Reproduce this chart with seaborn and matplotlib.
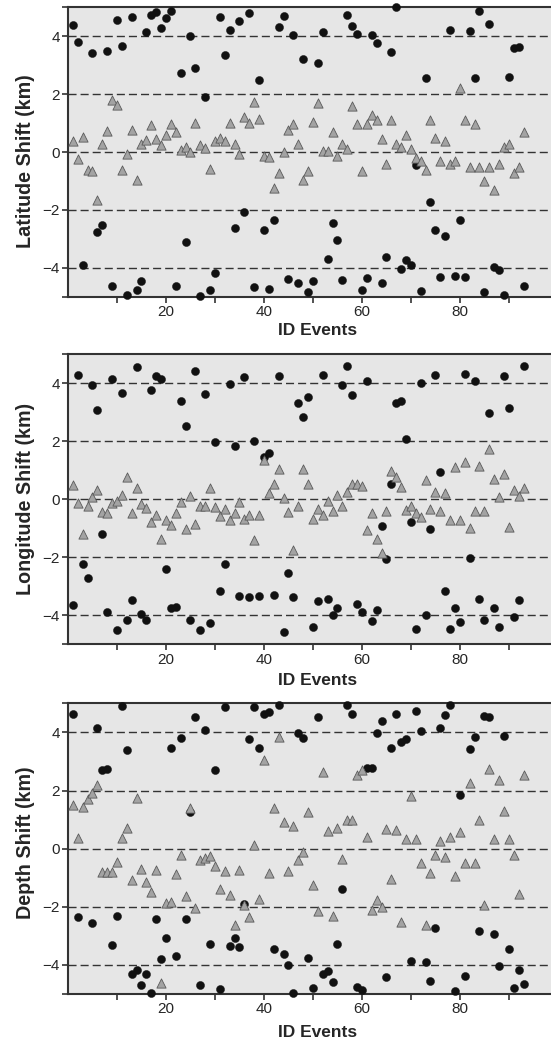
import numpy as np
import pandas as pd
import matplotlib
matplotlib.use('Agg')
import matplotlib.pyplot as plt
import seaborn as sns

nan = np.nan

# ID dos eventos
events = list(range(1, 94))

# Latitude: circulos (pretos) e triangulos (cinza)
lat_circ = [4.38, 3.79, -3.92, nan, 3.42, -2.76, -2.52, 3.48, -4.64, 4.56,
            3.66, -4.95, 4.68, -4.78, -4.45, 4.16, 4.75, 4.85, 4.30, 4.65,
            4.86, -4.64, 2.72, -3.10, 4.00, 2.89, -4.99, 1.89, -4.78, -4.18,
            4.67, 3.35, 4.23, -2.62, 4.52, -2.07, 4.80, -4.67, 2.49, -2.68,
            -4.72, -2.35, 4.33, 4.71, -4.39, 4.04, -4.54, 3.20, -4.84, -4.47,
            3.08, 4.16, -3.69, -2.45, -3.05, -4.41, 4.73, 4.34, 4.08, -4.77,
            -4.34, 4.03, 3.77, -4.53, -3.64, 3.46, 5.00, -4.03, -3.72, -3.89,
            -0.46, -4.80, 2.55, -1.74, -2.68, -4.31, -2.90, 4.23, -4.29, -2.35,
            -4.31, 4.17, 2.56, 4.87, -4.83, 4.41, -3.97, -4.08, -4.93, 2.59,
            3.59, 3.64, -4.65]
lat_tri = [0.38, -0.23, 0.52, -0.61, -0.67, -1.67, 0.29, 0.74, 1.79, 1.62,
           -0.63, -0.08, 0.75, -0.97, 0.26, 0.40, 0.92, 0.45, 0.23, 0.58,
           0.97, 0.68, 0.07, 0.16, -0.01, 0.99, 0.23, 0.14, -0.59, 0.37,
           0.50, 0.38, 0.99, 0.26, -0.06, 1.21, 1.00, 1.72, 1.15, -0.14,
           -0.16, -1.26, -0.74, 0.00, 0.75, 0.98, 0.28, -0.97, -0.67, 1.05,
           1.68, 0.02, 0.02, 0.68, -0.14, 0.29, 0.09, 1.59, 0.98, -0.66,
           0.98, 1.29, 1.09, 0.44, -0.41, 1.09, 0.29, 0.18, 0.59, 0.09,
           -0.22, -0.31, -0.61, 1.09, 0.50, -0.31, 0.39, -0.41, -0.31, 2.20,
           1.09, -0.52, 0.98, -0.52, -1.01, -0.52, -1.31, -0.41, 0.18, 0.29,
           -0.71, -0.52, 0.68]

# Longitude
lon_circ = [-3.64, 4.30, -2.24, -2.71, 3.95, 3.08, -1.20, -3.89, 4.14, -4.52,
            3.66, -4.18, -3.46, 4.56, -3.95, -4.16, 3.76, 4.25, 4.14, -2.40,
            -3.75, -3.72, 3.38, 2.51, -4.18, 4.43, -4.51, 3.64, -4.26, 1.98,
            -3.18, -2.22, 3.97, 1.85, -3.32, 4.20, -3.37, 2.02, -3.32, 1.44,
            1.60, -3.30, 4.25, -4.59, -2.54, -3.38, 3.32, 2.85, 3.53, -4.39,
            -3.52, 4.30, -3.45, -4.00, -3.76, 3.94, 4.59, 3.61, -3.61, -3.90,
            4.09, -4.20, -3.82, -0.92, -2.06, 0.52, 3.31, 3.38, 2.07, -0.79,
            -4.48, 4.00, -4.00, -1.02, 4.30, 0.95, -3.18, -4.47, -3.74, -4.22,
            4.32, -2.01, 4.09, -3.44, -4.17, 2.97, -3.74, -4.39, 4.26, 3.14,
            -4.06, -3.48, 4.59]
lon_tri = [0.48, -0.14, -1.20, -0.22, 0.07, 0.32, -0.45, -0.47, -0.14, -0.06,
           0.14, 0.78, -0.46, 0.38, -0.16, -0.29, -0.77, -0.56, -1.36, -0.70,
           -0.90, -0.49, -0.10, -1.02, 0.11, -0.87, -0.22, -0.23, 0.40, -0.26,
           -0.57, -0.33, -0.70, -0.46, -0.11, -0.67, -0.53, -1.41, -0.56, 1.36,
           0.20, 0.54, 1.03, 0.06, -0.43, -1.76, -0.25, 1.05, 0.53, -0.67,
           -0.32, -0.53, -0.06, -0.41, 0.13, -0.25, 0.24, 0.53, 0.51, 0.47,
           -1.07, -0.46, -1.37, -1.87, -0.41, 0.98, 0.76, 0.43, -0.36, -0.25,
           -0.48, -0.60, 0.68, -0.34, 0.26, -0.41, 0.21, -0.70, 1.11, -0.70,
           1.28, -0.99, -0.41, 1.14, -0.41, 1.74, 0.71, 0.07, 0.86, -0.97,
           0.31, 0.10, 0.40]

# Profundidade
dep_circ = [4.65, -2.36, nan, nan, -2.57, 4.14, 2.72, 2.75, -3.31, -2.32,
            4.91, 3.40, -4.32, -4.18, -4.70, -4.32, -4.95, -2.41, -3.81, -3.06,
            3.45, -3.69, 3.82, -2.42, 1.27, 4.52, -4.69, 4.10, -3.28, 2.70,
            -4.84, 4.86, -3.35, -3.06, -3.40, -1.91, 3.78, 4.87, 3.47, 4.64,
            4.69, -3.45, 4.95, -3.61, -3.99, -4.95, 3.98, 3.82, -3.77, -4.78,
            4.52, -4.32, -4.22, -4.60, -3.28, -1.40, 4.94, 4.64, -4.76, -4.85,
            2.79, 2.79, 3.98, 4.39, -4.41, 3.47, 4.63, 3.66, 3.79, -3.86,
            4.73, 4.06, -3.90, -4.55, -2.74, 4.16, 4.61, 4.94, -4.91, 1.86,
            -4.38, 3.42, 3.83, -2.82, 4.57, 4.53, -2.92, -4.03, 3.87, -3.46,
            -4.78, -4.19, -4.66]
dep_tri = [1.49, 0.38, 1.43, 1.70, 1.91, 2.18, -0.81, -0.81, -0.81, -0.47,
           0.38, 0.70, -1.07, 1.74, -0.70, -1.16, -1.48, -0.74, -4.63, -1.86,
           -1.85, -0.88, -0.22, -1.62, 1.39, -2.03, -0.38, -0.33, -0.24, -0.61,
           -1.38, -0.78, -1.59, -2.61, -0.74, -1.94, -2.35, 0.11, -1.72, 3.04,
           -0.83, 1.41, 3.84, 0.93, -0.76, 0.79, -0.39, -0.13, 1.26, -1.24,
           -2.14, 2.65, 0.61, -2.33, 0.72, -0.37, 0.99, 0.99, 2.53, 2.72,
           0.41, -2.12, -1.77, -2.01, 0.66, -1.04, 0.63, -2.52, 0.33, 1.80,
           0.33, -0.49, -2.61, -0.84, -0.22, 0.26, -0.28, 0.41, -0.93, 0.56,
           -0.50, 2.25, -0.50, 0.97, -1.94, 2.75, 0.33, 2.36, 1.30, 0.33,
           -0.22, -1.57, 2.53]

panels = [
    ('Latitude Shift (km)', lat_circ, lat_tri),
    ('Longitude Shift (km)', lon_circ, lon_tri),
    ('Depth Shift (km)', dep_circ, dep_tri),
]

sns.set_style('white')
plt.rcParams['font.family'] = ['Liberation Sans', 'DejaVu Sans']

fig = plt.figure(figsize=(5.51, 10.44), dpi=100)

# posicoes dos eixos (left, bottom, width, height)
boxes = [
    [0.1234, 0.7159, 0.8766, 0.2770],
    [0.1234, 0.3829, 0.8766, 0.2778],
    [0.1234, 0.0479, 0.8766, 0.2784],
]
# posicao dos rotulos (fracao dos eixos)
xlab_y = [-0.116, -0.124, -0.131]
ylab_y = [0.467, 0.50, 0.52]

edge = '#333333'

for (ylabel, circ, tri), box, xl, yl in zip(panels, boxes, xlab_y, ylab_y):
    ax = fig.add_axes(box)
    ax.set_facecolor('#e6e6e6')

    df = pd.DataFrame({'event': events, 'circ': circ, 'tri': tri})

    # linhas tracejadas
    for yv in [-4, -2, 0, 2, 4]:
        ax.axhline(yv, color=edge, lw=1.0, dashes=(5.8, 2.9), zorder=1)

    # circulos pretos
    sns.scatterplot(data=df, x='event', y='circ', ax=ax, marker='o',
                    s=34, color='#111111', edgecolor='#111111', linewidth=0.3,
                    zorder=3, clip_on=False)
    # triangulos cinza
    sns.scatterplot(data=df, x='event', y='tri', ax=ax, marker='^',
                    s=44, color='#a3a3a3', edgecolor='#5a5a5a', linewidth=0.6,
                    zorder=4, clip_on=False)

    ax.set_xlim(0, 98.6)
    ax.set_ylim(-5, 5)

    ax.set_xticks([20, 40, 60, 80])
    ax.set_xticks([10, 30, 50, 70, 90], minor=True)
    ax.set_yticks([-4, -2, 0, 2, 4])
    ax.set_yticks([-5, 5], minor=True)

    ax.tick_params(axis='both', which='both', direction='out', length=4,
                   width=1.2, color=edge, labelsize=11, pad=2,
                   bottom=True, left=True)

    for side in ['left', 'top', 'bottom']:
        ax.spines[side].set_color(edge)
        ax.spines[side].set_linewidth(1.5)
    ax.spines['right'].set_visible(False)

    ax.set_xlabel('ID Events', fontsize=12.5, fontweight='bold', va='center')
    ax.xaxis.set_label_coords(0.516, xl)
    ax.set_ylabel(ylabel, fontsize=14.2, fontweight='bold', va='center')
    ax.yaxis.set_label_coords(-0.089, yl)

fig.savefig('out.png', dpi=100)
